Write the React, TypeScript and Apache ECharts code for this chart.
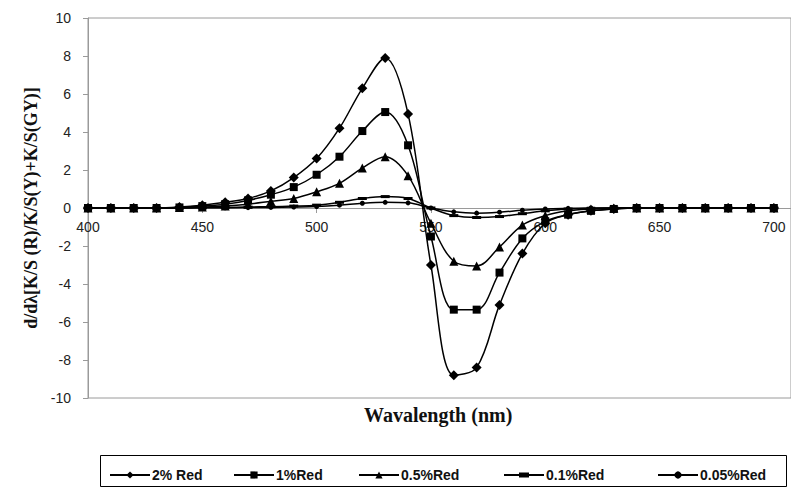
import React, { useEffect, useRef } from "react";
import * as echarts from "echarts";

// Wavelengths sampled every 10 nm
const wavelengths: number[] = [
  400, 410, 420, 430, 440, 450, 460, 470, 480, 490, 500, 510, 520, 530, 540, 550,
  560, 570, 580, 590, 600, 610, 620, 630, 640, 650, 660, 670, 680, 690, 700,
];

const red2: number[] = [
  0, 0, 0, 0, 0.05, 0.15, 0.3, 0.5, 0.9, 1.6, 2.6, 4.2, 6.3, 7.9, 4.95, -3.0,
  -8.8, -8.4, -5.1, -2.4, -0.8, -0.35, -0.15, -0.05, 0, 0, 0, 0, 0, 0, 0,
];
const red1: number[] = [
  0, 0, 0, 0, 0.03, 0.1, 0.2, 0.4, 0.7, 1.1, 1.75, 2.7, 4.05, 5.05, 3.3, -1.5,
  -5.35, -5.35, -3.4, -1.6, -0.7, -0.35, -0.15, -0.05, 0, 0, 0, 0, 0, 0, 0,
];
const red05: number[] = [
  0, 0, 0, 0, 0.02, 0.05, 0.1, 0.2, 0.35, 0.5, 0.85, 1.3, 2.1, 2.7, 1.7, -0.8,
  -2.8, -3.05, -2.05, -0.9, -0.4, -0.15, -0.05, 0, 0, 0, 0, 0, 0, 0, 0,
];
const red01: number[] = [
  0, 0, 0, 0, 0, 0.02, 0.03, 0.05, 0.07, 0.1, 0.15, 0.3, 0.5, 0.6, 0.5, 0.0,
  -0.4, -0.5, -0.45, -0.3, -0.15, -0.05, -0.02, 0, 0, 0, 0, 0, 0, 0, 0,
];
const red005: number[] = [
  0, 0, 0, 0, 0, 0.01, 0.01, 0.02, 0.03, 0.05, 0.08, 0.15, 0.25, 0.3, 0.27, 0.0,
  -0.2, -0.27, -0.22, -0.12, -0.05, -0.02, 0, 0, 0, 0, 0, 0, 0, 0, 0,
];

const seriesNames: string[] = ["2% Red", "1%Red", "0.5%Red", "0.1%Red", "0.05%Red"];

const yTicks = { min: -10, max: 10, interval: 2 };
const xTicks = { min: 400, max: 707.5, interval: 50 };

const AXIS_GREY = "#9a9a9a";

// left edge of each legend entry inside the legend box
const legendLefts = [104, 228, 353, 499, 652];

// legend glyph for the dash-marked series: a line with a short bar on it
const DASH_ICON = "path://M0,4L40,4L40,6L0,6Z M15,2.5L25,2.5L25,7.5L15,7.5Z";

export default function App() {
  const ref = useRef<HTMLDivElement>(null);

  useEffect(() => {
    if (!ref.current) return;
    const chart = echarts.init(ref.current, undefined, { renderer: "svg" });

    const pair = (vals: number[]) => wavelengths.map((w, i) => [w, vals[i]]);

    const base = {
      type: "line" as const,
      smooth: 0.35,
      showAllSymbol: true,
      lineStyle: { color: "#000", width: 1.5 },
      itemStyle: { color: "#000" },
      z: 2,
    };

    const legends = seriesNames.map((name, i) => ({
      left: legendLefts[i],
      top: 463,
      itemWidth: 40,
      itemHeight: 9,
      itemGap: 0,
      textStyle: {
        fontFamily: "Liberation Sans",
        fontWeight: "bold",
        fontSize: 14,
        color: "#111",
        padding: [0, 0, 0, -3],
      },
      data: [i === 3 ? { name, icon: DASH_ICON, itemStyle: { color: "#000", opacity: 1 } } : name],
    }));

    chart.setOption({
      animation: false,
      backgroundColor: "#fff",
      grid: {
        left: 88,
        top: 18,
        width: 705,
        height: 380,
        show: true,
        borderColor: AXIS_GREY,
        borderWidth: 1,
        containLabel: false,
      },
      xAxis: {
        type: "value",
        min: xTicks.min,
        max: xTicks.max,
        interval: xTicks.interval,
        position: "bottom",
        offset: -190,
        axisLine: { onZero: false, lineStyle: { color: AXIS_GREY, width: 1 } },
        axisTick: { show: true, length: 5, lineStyle: { color: AXIS_GREY } },
        axisLabel: {
          showMaxLabel: false,
          margin: 12,
          color: "#222",
          fontFamily: "Liberation Sans",
          fontSize: 14,
        },
        splitLine: { show: false },
      },
      yAxis: {
        type: "value",
        min: yTicks.min,
        max: yTicks.max,
        interval: yTicks.interval,
        name: "d/dλ[K/S (R)/K/S(Y)+K/S(GY)]",
        nameLocation: "middle",
        nameGap: 42,
        nameTextStyle: {
          fontFamily: "Liberation Serif",
          fontWeight: "bold",
          fontSize: 18,
          color: "#111",
        },
        axisLine: { show: true, onZero: false, lineStyle: { color: AXIS_GREY, width: 1 } },
        axisTick: { show: true, length: 5, lineStyle: { color: AXIS_GREY } },
        axisLabel: {
          margin: 17,
          color: "#222",
          fontFamily: "Liberation Sans",
          fontSize: 14,
        },
        splitLine: { show: false },
      },
      legend: legends,
      graphic: [
        {
          type: "text",
          left: 440 - 76,
          top: 405,
          style: {
            text: "Wavalength (nm)",
            fontFamily: "Liberation Serif",
            fontWeight: "bold",
            fontSize: 20,
            fill: "#111",
          },
        },
        {
          type: "rect",
          shape: { x: 100.5, y: 455.5, width: 686, height: 31 },
          style: { fill: "none", stroke: "#000", lineWidth: 1 },
          z: -1,
        },
      ],
      series: [
        { ...base, name: seriesNames[0], data: pair(red2), symbol: "diamond", symbolSize: 10 },
        { ...base, name: seriesNames[1], data: pair(red1), symbol: "rect", symbolSize: 8, z: 3 },
        { ...base, name: seriesNames[2], data: pair(red05), symbol: "triangle", symbolSize: 9 },
        { ...base, name: seriesNames[3], data: pair(red01), symbol: "rect", symbolSize: [9, 3] },
        { ...base, name: seriesNames[4], data: pair(red005), symbol: "circle", symbolSize: 5 },
      ],
    });

    return () => chart.dispose();
  }, []);

  return (
    <div
      ref={ref}
      style={{ position: "fixed", left: 0, top: 0, width: 791, height: 499 }}
    />
  );
}
